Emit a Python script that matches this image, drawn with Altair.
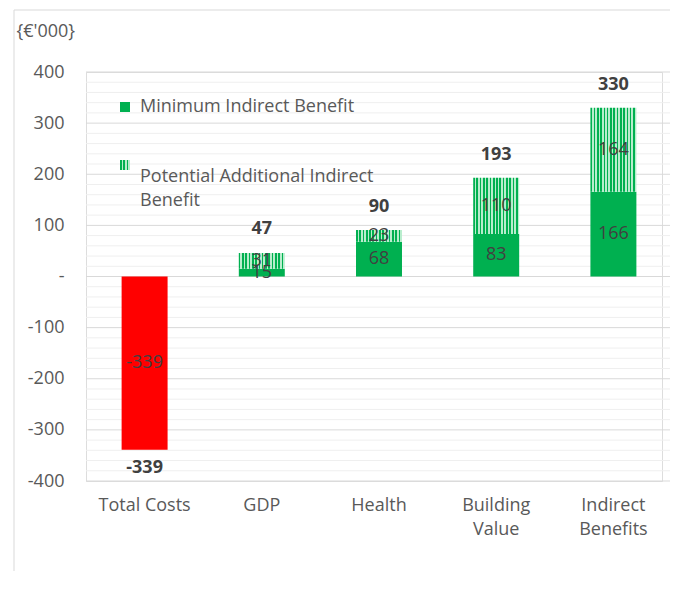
import altair as alt
import pandas as pd

categories = ["Total Costs", "GDP", "Health", "Building Value", "Indirect Benefits"]
cost_values = [-339, 0, 0, 0, 0]
min_benefit = [0, 15, 68, 83, 166]
potential_benefit = [0, 31, 23, 110, 164]
totals = [-339, 47, 90, 193, 330]
y_ticks = [-400, -300, -200, -100, 0, 100, 200, 300, 400]
minor_ticks = list(range(-400, 401, 20))

rows = []
for c, cost, mn, pt, tot in zip(categories, cost_values, min_benefit, potential_benefit, totals):
    if cost:
        rows.append(dict(cat=c, series="cost", y0=0, y1=cost, mid=cost / 2, val=str(cost)))
    if mn:
        rows.append(dict(cat=c, series="min", y0=0, y1=mn, mid=mn / 2, val=str(mn)))
    if pt:
        rows.append(dict(cat=c, series="pot", y0=mn, y1=mn + pt, mid=mn + pt / 2, val=str(pt)))
seg = pd.DataFrame(rows)
tot_df = pd.DataFrame(dict(cat=categories, total=totals, lab=[str(t) for t in totals]))
grid_minor = pd.DataFrame(dict(v=[t for t in minor_ticks if t not in y_ticks]))
grid_major = pd.DataFrame(dict(v=y_ticks))

FONT = "Open Sans"
FS = 18
GREEN = "#00B050"
LIGHT = "#B8EDCD"


def stripes(n):
    stops = []
    for i in range(n):
        a = i / n
        b = (i + 0.5) / n
        e = (i + 1) / n
        stops += [alt.GradientStop(color=GREEN, offset=a), alt.GradientStop(color=GREEN, offset=b),
                  alt.GradientStop(color=LIGHT, offset=b), alt.GradientStop(color=LIGHT, offset=e)]
    return alt.Gradient(gradient="linear", stops=stops, x1=0, x2=1, y1=0, y2=0)


pattern = stripes(14)
pattern_small = stripes(3)

yscale = alt.Scale(domain=[-400, 400], nice=False, zero=False)
xscale = alt.Scale(domain=categories, range=[0, 586], paddingInner=0.6077, paddingOuter=0.30385)

x_enc = alt.X("cat:N", scale=xscale, sort=categories, axis=alt.Axis(
    title=None, domain=False, ticks=False, labelAngle=0, labelFont=FONT, labelFontSize=FS,
    labelColor="#595959", labelPadding=15, labelBaseline="top", labelLineHeight=24,
    labelExpr="datum.value == 'Building Value' ? ['Building','Value'] : datum.value == 'Indirect Benefits' ? ['Indirect','Benefits'] : datum.value"))

minor = alt.Chart(grid_minor).mark_rule(color="#EFEFEF", strokeWidth=1).encode(
    x=alt.value(0), x2=alt.value(586),
    y=alt.Y("v:Q", scale=yscale, axis=alt.Axis(
        values=y_ticks, grid=False, domain=False, ticks=False, labelFont=FONT, labelFontSize=FS,
        labelColor="#595959", labelPadding=22,
        labelExpr="datum.value == 0 ? '-\u00a0\u00a0\u00a0' : replace(datum.label, '\u2212', '-')",
        title="{€'000}", titleAngle=0, titleX=-70, titleY=-41, titleAlign="left",
        titleBaseline="middle", titleFont=FONT, titleFontSize=FS, titleFontWeight="normal",
        titleColor="#595959")))
major = alt.Chart(grid_major).mark_rule(color="#D9D9D9", strokeWidth=1).encode(
    x=alt.value(0), x2=alt.value(586),
    y=alt.Y("v:Q", scale=yscale))

base = alt.Chart(seg)
cost_bar = base.transform_filter("datum.series == 'cost'").mark_bar(color="#FF0000").encode(
    x=x_enc, y=alt.Y("y0:Q", scale=yscale), y2="y1:Q")
min_bar = base.transform_filter("datum.series == 'min'").mark_bar(color=GREEN).encode(
    x=x_enc, y=alt.Y("y0:Q", scale=yscale), y2="y1:Q")
pot_bar = base.transform_filter("datum.series == 'pot'").mark_bar(color=pattern).encode(
    x=x_enc, y=alt.Y("y0:Q", scale=yscale), y2="y1:Q")
seg_text = base.mark_text(font=FONT, fontSize=FS, color="#404040", baseline="middle").encode(
    x=x_enc, y=alt.Y("mid:Q", scale=yscale), text="val:N")

tot_pos = alt.Chart(tot_df).transform_filter("datum.total > 0").mark_text(
    font=FONT, fontSize=FS, fontWeight="bold", color="#404040", baseline="middle", dy=-23).encode(
    x=x_enc, y=alt.Y("total:Q", scale=yscale), text="lab:N")
tot_neg = alt.Chart(tot_df).transform_filter("datum.total < 0").mark_text(
    font=FONT, fontSize=FS, fontWeight="bold", color="#404040", baseline="middle", dy=18).encode(
    x=x_enc, y=alt.Y("total:Q", scale=yscale), text="lab:N")

leg_df = pd.DataFrame(dict(k=[0]))
leg_sq1 = alt.Chart(leg_df).mark_rect(color=GREEN).encode(
    x=alt.value(34), x2=alt.value(44), y=alt.value(30), y2=alt.value(40))
leg_sq2 = alt.Chart(leg_df).mark_rect(color=pattern_small).encode(
    x=alt.value(34), x2=alt.value(44), y=alt.value(88), y2=alt.value(98))
leg_t1 = alt.Chart(leg_df).mark_text(font=FONT, fontSize=FS, color="#595959", align="left",
                                     baseline="middle").encode(
    x=alt.value(54), y=alt.value(35), text=alt.value("Minimum Indirect Benefit"))
leg_t2 = alt.Chart(leg_df).mark_text(font=FONT, fontSize=FS, color="#595959", align="left",
                                     baseline="middle", lineHeight=24).encode(
    x=alt.value(54), y=alt.value(105),
    text=alt.value(["Potential Additional Indirect", "Benefit"]))

border_left = alt.Chart(leg_df).mark_rule(color="#D9D9D9").encode(
    x=alt.value(-72), y=alt.value(-62), y2=alt.value(530))
border_top = alt.Chart(leg_df).mark_rule(color="#D9D9D9").encode(
    x=alt.value(-72), x2=alt.value(600), y=alt.value(-62))

chart = alt.layer(
    minor, major, cost_bar, min_bar, pot_bar, seg_text, tot_pos, tot_neg,
    leg_sq1, leg_sq2, leg_t1, leg_t2, border_left, border_top
).properties(
    width=576, height=409,
    autosize=alt.AutoSizeParams(type="none"),
    padding={"left": 78, "top": 64, "right": 8, "bottom": 90},
).configure_view(strokeWidth=0, strokeOpacity=0).configure(background="white")

chart.save("out.html", embed_options={"renderer": "svg", "actions": False})
